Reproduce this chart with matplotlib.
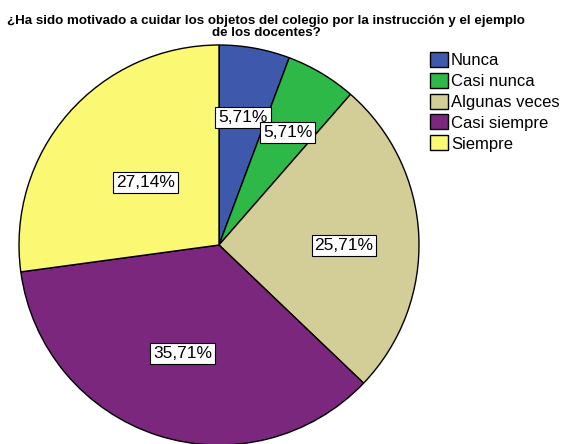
import matplotlib.pyplot as plt
import numpy as np

plt.rcParams['font.family'] = ['Liberation Sans', 'DejaVu Sans']

categories = ['Nunca', 'Casi nunca', 'Algunas veces', 'Casi siempre', 'Siempre']
percent = [5.71, 5.71, 25.71, 35.71, 27.14]
colors = ['#3E58AC', '#2EB848', '#D3CE97', '#7B277D', '#FBF873']
titleText = '¿Ha sido motivado a cuidar los objetos del colegio por la instrucción y el ejemplo\nde los docentes?'

W, H = 569, 444
fig = plt.figure(figsize=(W / 100, H / 100), dpi=100)
ax = fig.add_axes([0, 0, 1, 1])

cx, cy, R = 219, H - 245, 200
wedges, _ = ax.pie(percent, colors=colors, startangle=90, counterclock=False,
                   center=(cx, cy), radius=R, frame=True,
                   wedgeprops=dict(edgecolor='black', linewidth=1.0))
ax.set_xlim(0, W)
ax.set_ylim(0, H)
ax.axis('off')

# label radial fraction per wedge (SPSS-like placement)
frac = [0.65, 0.66, 0.625, 0.57, 0.485]
angOff = [-0.3, -0.6, -3, -0.5, 0.7]
for i, w in enumerate(wedges):
    mid = np.deg2rad((w.theta1 + w.theta2) / 2 + angOff[i])
    x = cx + frac[i] * R * np.cos(mid)
    y = cy + frac[i] * R * np.sin(mid)
    ax.text(x, y, ('%.2f%%' % percent[i]).replace('.', ','), fontsize=12.5,
            ha='center', va='center',
            bbox=dict(boxstyle='square,pad=0.17', facecolor='white', edgecolor='black', linewidth=0.8))

fig.text(0.468, 1 - 15 / H, titleText, ha='center', va='top', fontsize=9.6,
         fontweight='bold', linespacing=0.95)

leg = ax.legend(wedges, categories, loc='upper left', bbox_to_anchor=(430 / W, 1 - 52 / H),
                bbox_transform=fig.transFigure, frameon=False, fontsize=12,
                handlelength=1.1, handleheight=1.0, handletextpad=0.15,
                labelspacing=0.28, borderaxespad=0, borderpad=0)

plt.savefig('out.png', dpi=100)
